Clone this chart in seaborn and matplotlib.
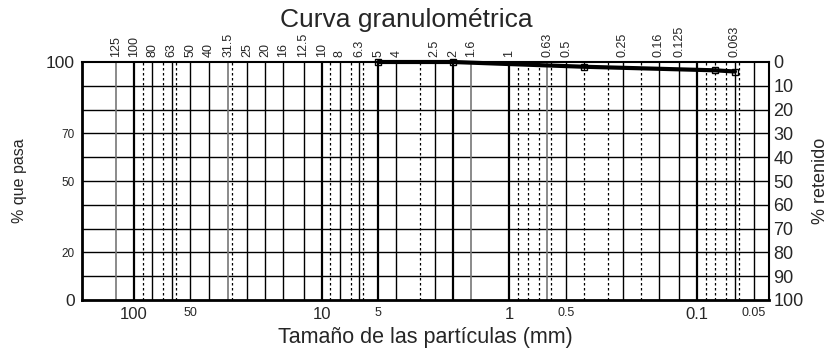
import matplotlib
matplotlib.use("Agg")
import matplotlib.pyplot as plt
import matplotlib.transforms as mtransforms
import numpy as np
import pandas as pd
import seaborn as sns

# Sieve apertures (mm) drawn as solid grid lines
sieve_sizes = [125, 100, 80, 63, 50, 40, 31.5, 25, 20, 16, 12.5, 10, 8, 6.3, 5, 4,
               2.5, 2, 1.6, 1, 0.63, 0.5, 0.25, 0.16, 0.125, 0.1, 0.063, 0.05]
# Labels printed above the frame for the sieves
sieve_labels = ["125", "100", "80", "63", "50", "40", "31.5", "25", "20", "16", "12.5",
                "10", "8", "6.3", "5", "4", "2.5", "2", "1.6", "1", "0.63", "0.5",
                "0.25", "0.16", "0.125", "", "0.063", ""]
# Heavier and lighter sieve lines
heavy_sizes = [100, 10, 5, 2, 1, 0.1]
light_sizes = [125, 31.5, 1.6, 0.63]
# Intermediate sizes drawn as dotted lines
dotted_sizes = [90, 70, 60, 30, 9, 7, 6, 3, 0.9, 0.8, 0.7, 0.6, 0.4, 0.3, 0.2,
                0.09, 0.08, 0.07, 0.06]

# Grading curve: particle size (mm) vs. percent passing
curve_size = [5, 2, 0.4, 0.08, 0.063]
curve_passing = [100, 100, 98, 96.5, 96]

# Axis ticks
x_ticks = [100, 50, 10, 5, 1, 0.5, 0.1, 0.05]
x_tick_labels = ["100", "50", "10", "5", "1", "0.5", "0.1", "0.05"]
x_tick_sizes = [12, 9, 12, 9, 12, 9, 12, 9]
left_ticks = [0, 20, 50, 70, 100]
left_tick_sizes = [12.5, 8.5, 8.5, 8.5, 12.5]
right_ticks = list(range(0, 101, 10))

sns.set_style("white")
plt.rcParams["font.family"] = ["Liberation Sans", "DejaVu Sans"]

fig = plt.figure(figsize=(8.33, 3.54), dpi=100)
ax = fig.add_axes([82 / 833, 1 - 300 / 354, (769 - 82) / 833, (300 - 62) / 354])

ax.set_xscale("log")
ax.set_xlim(189, 0.0415)
ax.set_ylim(0, 100)

# horizontal grid every 10 %
for y in range(10, 100, 10):
    ax.axhline(y, color="black", lw=1.0, zorder=1)

# sieve grid lines
for s in sieve_sizes:
    if s in heavy_sizes:
        ax.axvline(s, color="black", lw=1.6, zorder=1)
    elif s in light_sizes:
        ax.axvline(s, color="#777777", lw=1.2, zorder=1)
    else:
        ax.axvline(s, color="black", lw=1.0, zorder=1)
for s in dotted_sizes:
    ax.axvline(s, color="black", lw=0.9, ls=(0, (2, 2)), zorder=1)

# sieve labels above the frame
trans = mtransforms.blended_transform_factory(ax.transData, ax.transAxes)
for s, lab in zip(sieve_sizes, sieve_labels):
    if lab:
        ax.text(s, 1.02, lab, transform=trans, rotation=90, ha="center",
                va="bottom", fontsize=9)

df = pd.DataFrame({"size": curve_size, "passing": curve_passing})
sns.lineplot(data=df, x="size", y="passing", ax=ax, color="black", lw=3.0,
             marker="s", markersize=4, markerfacecolor="none",
             markeredgecolor="black", markeredgewidth=1.0, zorder=5,
             clip_on=False)

ax.set_xticks(x_ticks)
ax.set_xticklabels(x_tick_labels)
ax.xaxis.set_minor_locator(matplotlib.ticker.NullLocator())
for lbl, fs in zip(ax.get_xticklabels(), x_tick_sizes):
    lbl.set_fontsize(fs)
ax.tick_params(axis="x", length=0, pad=5)

ax.set_yticks(left_ticks)
ax.set_yticklabels([str(t) for t in left_ticks])
for lbl, fs in zip(ax.get_yticklabels(), left_tick_sizes):
    lbl.set_fontsize(fs)
ax.tick_params(axis="y", length=0, pad=5)

ax.set_xlabel("Tamaño de las partículas (mm)", fontsize=15.5, labelpad=4)
ax.set_ylabel("% que pasa", fontsize=11.5, labelpad=14)

for side, sp in ax.spines.items():
    sp.set_color("black")
    sp.set_linewidth(1.5)
ax.spines["bottom"].set_linewidth(2.0)
ax.spines["left"].set_linewidth(2.0)

ax2 = ax.twinx()
ax2.set_ylim(100, 0)
ax2.set_yticks(right_ticks)
ax2.set_yticklabels([str(t) for t in right_ticks], fontsize=13)
ax2.tick_params(axis="y", length=0, pad=3)
ax2.set_ylabel("% retenido", fontsize=13, labelpad=6)
for sp in ax2.spines.values():
    sp.set_visible(False)

fig.text(406 / 833, 1 - 20 / 354, "Curva granulométrica", ha="center",
         va="center", fontsize=19)

fig.savefig("out.png", dpi=100)
